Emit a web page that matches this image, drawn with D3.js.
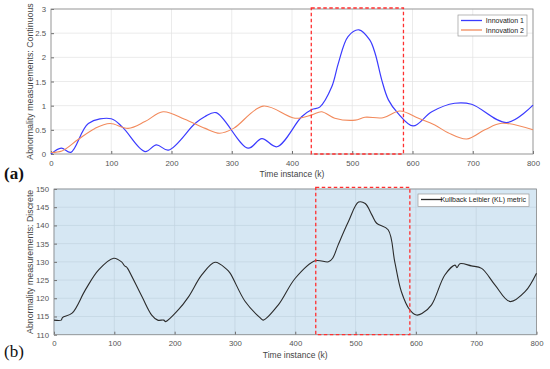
<!DOCTYPE html>
<html>
<head>
<meta charset="utf-8">
<script src="https://d3js.org/d3.v7.min.js"></script>
<style>
  body { margin: 0; background: #fff; }
  text { font-family: "Liberation Sans", Arial, sans-serif; }
</style>
</head>
<body>
<svg id="chart" width="550" height="369"></svg>
<script>

// top panel (a): continuous measurements
const innov1 = [[0,0],[17,0.12],[33,0.035],[62,0.63],[100,0.73],[119,0.55],[156,0.05],[175,0.19],[195,0.08],[239,0.63],[255,0.77],[274,0.855],[327,0.12],[350,0.32],[375,0.15],[416,0.77],[433,0.92],[446,0.97],[466,1.39],[477,1.88],[493,2.43],[511,2.57],[529,2.36],[538,2.08],[549,1.53],[560,1.12],[576,0.84],[601,0.58],[632,0.875],[670,1.05],[698,1.03],[756,0.65],[800,1.01]];
const innov2 = [[0,0.03],[18,0.06],[45,0.3],[73,0.53],[98,0.63],[128,0.53],[156,0.67],[186,0.875],[222,0.72],[256,0.53],[280,0.43],[303,0.53],[352,0.99],[405,0.74],[433,0.81],[449,0.875],[471,0.74],[505,0.70],[521,0.76],[551,0.75],[579,0.89],[610,0.74],[637,0.6],[659,0.44],[690,0.31],[720,0.5],[748,0.635],[800,0.5]];

// bottom panel (b): KL metric
const klMetric = [[0,114],[12,114],[14,114.7],[30,115.9],[52,122.3],[74,127.8],[99,131],[112,130],[117,128.9],[120,128.6],[122,128.2],[146,120.4],[162,115.4],[172,114],[182,114],[185,113.6],[206,116.8],[223,120.4],[245,126.4],[267,129.9],[286,128],[292,126.9],[317,119.1],[342,114.6],[347,114],[372,118.2],[400,125.5],[433,130.3],[455,130],[462,131],[471,134.6],[488,141],[505,146.4],[516,146],[527,142.9],[535,140.6],[554,138.8],[565,130],[576,121.8],[590,116.8],[601,115.4],[610,115.8],[626,118.2],[648,126.4],[665,129.1],[668,128.4],[673,129.5],[692,128.9],[709,128.2],[731,123.7],[756,119.1],[781,121.8],[800,126.9]];

const xTicks = d3.range(0, 801, 100);
const yTicksA = d3.range(0, 3.01, 0.5);
const yTicksB = d3.range(110, 151, 5);
const boxA = [432, 585];
const boxB = [434, 590];

const svg = d3.select("#chart");

function panel(opts) {
  const x = d3.scaleLinear().domain([0, 800]).range([opts.left, opts.right]);
  const y = d3.scaleLinear().domain(opts.ydom).range([opts.bottom, opts.top]);
  const g = svg.append("g");

  g.append("rect")
    .attr("x", opts.left).attr("y", opts.top)
    .attr("width", opts.right - opts.left).attr("height", opts.bottom - opts.top)
    .attr("fill", opts.bg);

  // grid
  g.selectAll(".gx").data(xTicks).join("line")
    .attr("x1", d => x(d)).attr("x2", d => x(d))
    .attr("y1", opts.top).attr("y2", opts.bottom)
    .attr("stroke", opts.grid).attr("stroke-width", 0.7);
  g.selectAll(".gy").data(opts.yticks).join("line")
    .attr("x1", opts.left).attr("x2", opts.right)
    .attr("y1", d => y(d)).attr("y2", d => y(d))
    .attr("stroke", opts.grid).attr("stroke-width", 0.7);

  // axes, ticks inside
  const ax = g.append("g").attr("transform", `translate(0,${opts.bottom})`)
    .call(d3.axisBottom(x).tickValues(xTicks).tickSize(-3).tickPadding(6).tickFormat(d3.format("d")));
  const ay = g.append("g").attr("transform", `translate(${opts.left},0)`)
    .call(d3.axisLeft(y).tickValues(opts.yticks).tickSize(-3).tickPadding(5).tickFormat(opts.fmt));
  [ax, ay].forEach(a => {
    a.select(".domain").remove();
    a.selectAll("line").attr("stroke", "#6e6e6e");
    a.selectAll("text").attr("fill", "#555").attr("font-size", "7.8px");
  });
  g.append("rect")
    .attr("x", opts.left).attr("y", opts.top)
    .attr("width", opts.right - opts.left).attr("height", opts.bottom - opts.top)
    .attr("fill", "none").attr("stroke", "#8a8a8a").attr("stroke-width", 0.8);

  const line = d3.line().x(d => x(d[0])).y(d => y(d[1])).curve(d3.curveCatmullRom);
  opts.series.forEach(s => {
    g.append("path").datum(s.data).attr("d", line)
      .attr("fill", "none").attr("stroke", s.color).attr("stroke-width", s.width);
  });

  // dashed region
  g.append("rect")
    .attr("x", x(opts.box[0])).attr("y", opts.top - opts.boxOver)
    .attr("width", x(opts.box[1]) - x(opts.box[0]))
    .attr("height", opts.bottom - opts.top + opts.boxOver)
    .attr("fill", "none").attr("stroke", "#ff3030")
    .attr("stroke-width", 1.3).attr("stroke-dasharray", "3.5,2.5");

  // labels
  g.append("text")
    .attr("x", (opts.left + opts.right) / 2).attr("y", opts.bottom + 23)
    .attr("text-anchor", "middle").attr("font-size", "8.5px").attr("fill", "#444")
    .text("Time instance (k)");
  g.append("text")
    .attr("transform", `translate(33,${(opts.top + opts.bottom) / 2}) rotate(-90)`)
    .attr("text-anchor", "middle").attr("font-size", "8.8px").attr("fill", "#444")
    .text(opts.ylabel);

  // legend
  const L = opts.legend;
  g.append("rect").attr("x", L.x).attr("y", L.y).attr("width", L.w).attr("height", L.h)
    .attr("fill", "#fff").attr("stroke", "#9a9a9a").attr("stroke-width", 0.7);
  opts.series.forEach((s, i) => {
    const cy = L.y + 5.5 + i * 9.5;
    g.append("line").attr("x1", L.x + 3).attr("x2", L.x + 24)
      .attr("y1", cy).attr("y2", cy).attr("stroke", s.color).attr("stroke-width", 1.3);
    g.append("text").attr("x", L.x + L.w - 3).attr("y", cy + 2.6)
      .attr("text-anchor", "end").attr("font-size", "7px").attr("fill", "#222").text(s.name);
  });

  svg.append("text")
    .attr("x", 4).attr("y", opts.bottom + opts.tagDy)
    .attr("font-size", "17px")
    .attr("font-weight", opts.tagBold ? "bold" : "normal").attr("fill", "#111")
    .style("font-family", "'Liberation Serif', serif")
    .text(opts.tag);
}

panel({
  left: 51, right: 533, top: 9, bottom: 154,
  ydom: [0, 3], yticks: yTicksA, fmt: d => d3.format("")(d),
  bg: "#ffffff", grid: "#e3e3e3",
  series: [
    { name: "Innovation 1", data: innov1, color: "#3b3bff", width: 1.2 },
    { name: "Innovation 2", data: innov2, color: "#f28a5c", width: 1.1 }
  ],
  box: boxA, boxOver: 1,
  ylabel: "Abnormality measurements: Continuous",
  legend: { x: 458, y: 15, w: 69, h: 21 },
  tag: "(a)", tagBold: true, tagDy: 25
});

panel({
  left: 54, right: 536.5, top: 189, bottom: 334.7,
  ydom: [110, 150], yticks: yTicksB, fmt: d3.format("d"),
  bg: "#d6e7f3", grid: "#c1d3e0",
  series: [
    { name: "Kullback Leibler (KL) metric", data: klMetric, color: "#2b2b2b", width: 1.1 }
  ],
  box: boxB, boxOver: 1.7,
  ylabel: "Abnormality measurements: Discrete",
  legend: { x: 418, y: 194, w: 111, h: 12.5 },
  tag: "(b)", tagBold: false, tagDy: 22
});

</script>
</body>
</html>
